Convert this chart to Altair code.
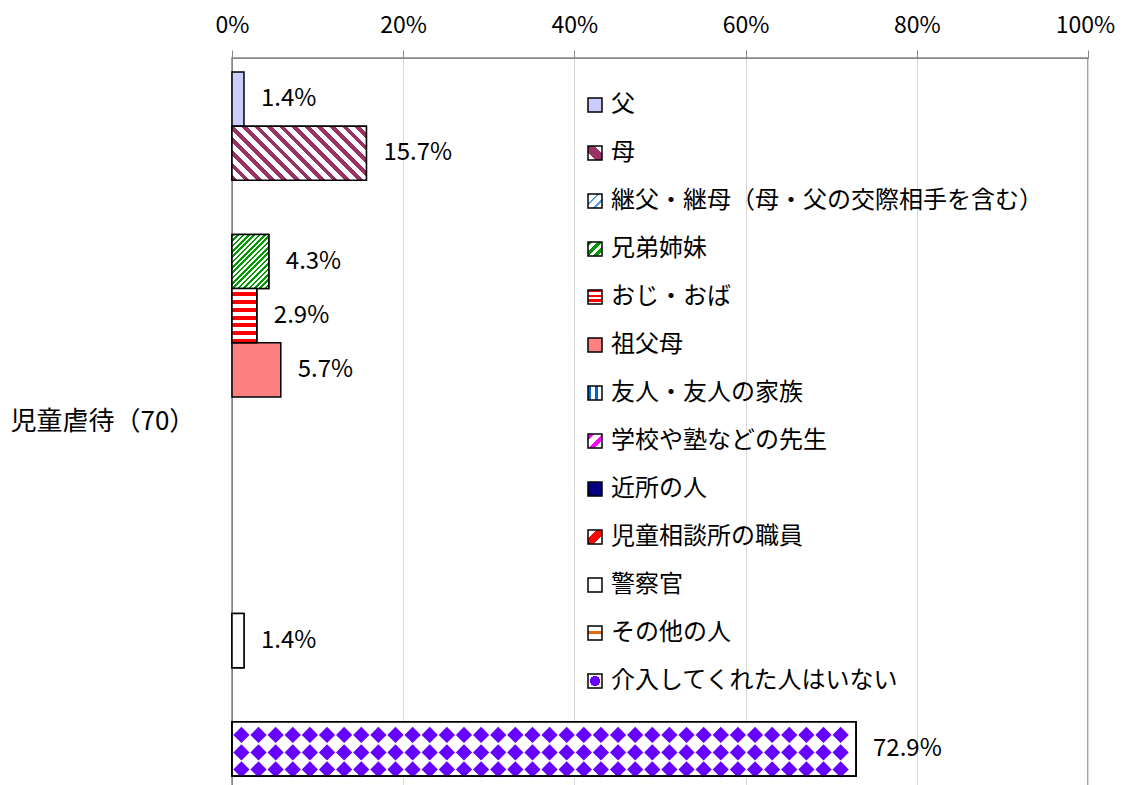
import json
import numpy as np
import pandas as pd
import altair as alt

# ---- data ----
categories = ["児童虐待（70）"]
series = [
    "父", "母", "継父・継母（母・父の交際相手を含む）", "兄弟姉妹", "おじ・おば", "祖父母",
    "友人・友人の家族", "学校や塾などの先生", "近所の人", "児童相談所の職員", "警察官",
    "その他の人", "介入してくれた人はいない",
]
values = [1.4, 15.7, 0.0, 4.3, 2.9, 5.7, 0.0, 0.0, 0.0, 0.0, 1.4, 0.0, 72.9]
x_ticks = [0, 20, 40, 60, 80, 100]

# ---- layout / style ----
W, H = 856, 732
PAD_OUT = 0.2585
FONT = "Noto Sans CJK JP"
px_per = W / 100.0
step = H / (len(series) + 2 * PAD_OUT)


def stripes(color, n, frac, x1, y1, x2, y2, bg="#FFFFFF"):
    stops = []
    for i in range(n):
        a, b, c = i / n, (i + frac) / n, (i + 1) / n
        stops += [{"offset": a, "color": color}, {"offset": b, "color": color},
                  {"offset": b, "color": bg}, {"offset": c, "color": bg}]
    return {"gradient": "linear", "x1": x1, "y1": y1, "x2": x2, "y2": y2, "stops": stops}


def band(color, lo, hi, x1, y1, x2, y2, bg="#FFFFFF"):
    stops = [{"offset": 0, "color": bg}, {"offset": lo, "color": bg},
             {"offset": lo, "color": color}, {"offset": hi, "color": color},
             {"offset": hi, "color": bg}, {"offset": 1, "color": bg}]
    return {"gradient": "linear", "x1": x1, "y1": y1, "x2": x2, "y2": y2, "stops": stops}


def diag(color, w, h, period, frac, back=True):
    c = (w + h) / (w * w + h * h)
    n = max(1, int(round((w + h) / (2 ** 0.5 * period))))
    if back:
        return stripes(color, n, frac, 0, 1, w * c, 1 - h * c)
    return stripes(color, n, frac, 0, 0, w * c, h * c)


def ex(g):
    return {"expr": json.dumps(g)}


radial_purple = {"gradient": "radial", "x1": 0.5, "y1": 0.5, "r1": 0, "x2": 0.5, "y2": 0.5, "r2": 0.5,
                 "stops": [{"offset": 0, "color": "#6600FF"}, {"offset": 0.72, "color": "#6600FF"},
                           {"offset": 0.74, "color": "#FFFFFF"}, {"offset": 1, "color": "#FFFFFF"}]}

legend_fill = [
    "#CCCCFF",
    ex(band("#993366", 0.28, 0.72, 0, 1, 1, 0)),
    ex(stripes("#4F9BE8", 3, 0.25, 0, 0, 1, 1)),
    ex(stripes("#009900", 3, 0.5, 0, 0, 1, 1)),
    ex(stripes("#FF0000", 3, 0.5, 0, 0, 0, 1)),
    "#FF8080",
    ex(stripes("#0066CC", 2, 0.5, 0, 0, 1, 0)),
    ex(stripes("#FF00FF", 2, 0.45, 0, 0, 1, 1)),
    "#000080",
    ex(band("#FF0000", 0.32, 0.68, 0, 0, 1, 1)),
    "#FFFFFF",
    ex(band("#E46C0A", 0.35, 0.55, 0, 0, 0, 1)),
    ex(radial_purple),
]

df = pd.DataFrame({"series": series, "value": values})
vals = dict(zip(series, values))

x_enc = alt.X("value:Q", scale=alt.Scale(domain=[0, 100], nice=False, zero=True),
              axis=alt.Axis(orient="top", values=x_ticks, labelExpr="datum.value + '%'",
                            title=None, grid=True, gridColor="#D9D9D9", gridWidth=1,
                            domainColor="#868686", tickColor="#868686", tickSize=8,
                            labelFontSize=23, labelColor="#000000", labelPadding=13,
                            labelFlush=False,
                            labelOffset={"condition": {"test": "datum.value === 100", "value": -3},
                                         "value": 0}))
y_enc = alt.Y("series:N", sort=None,
              scale=alt.Scale(domain=series, paddingInner=0, paddingOuter=PAD_OUT),
              axis=alt.Axis(labels=False, ticks=False, domainColor="#868686", grid=False,
                            title=categories[0], titleAngle=0, titleAlign="left",
                            titleBaseline="middle", titleX=-222, titleY=H / 2 - 3,
                            titleFontSize=26, titleFontWeight="normal", titleColor="#000000"))

base = alt.Chart(df)

bars = base.transform_filter("datum.value > 0").mark_bar(stroke="black", strokeWidth=1.5).encode(
    x=x_enc, y=y_enc,
    color=alt.Color("series:N", scale=alt.Scale(domain=series, range=legend_fill),
                    legend=alt.Legend(title=None, orient="none", legendX=351, legendY=35,
                                      symbolType="square", symbolSize=196,
                                      symbolStrokeColor="black", symbolStrokeWidth=1.5,
                                      labelFontSize=24, labelColor="#000000", labelLimit=800,
                                      labelOffset=4, rowPadding=24, padding=0)),
)

# patterned overlays for the bars
patterns = {
    "母": diag("#993366", vals["母"] * px_per, step, 9.0, 0.45, back=True),
    "兄弟姉妹": diag("#009900", vals["兄弟姉妹"] * px_per, step, 3.8, 0.5, back=False),
    "おじ・おば": stripes("#FF0000", 7, 0.5, 0, 1, 0, 0),
}
overlays = []
for name, g in patterns.items():
    overlays.append(
        base.transform_filter(alt.datum.series == name)
        .mark_bar(fill=g, stroke="black", strokeWidth=1.5)
        .encode(x=x_enc, y=y_enc)
    )

none_name = series[-1]
none_white = (base.transform_filter(alt.datum.series == none_name)
              .mark_bar(fill="#FFFFFF", stroke="black", strokeWidth=1.5)
              .encode(x=x_enc, y=y_enc))
police_white = (base.transform_filter(alt.datum.series == "警察官")
                .mark_bar(fill="#FFFFFF", stroke="black", strokeWidth=1.5)
                .encode(x=x_enc, y=y_enc))

cols = np.arange(1.1, vals[none_name] - 0.8, 2.0)
df_d = pd.DataFrame({"series": none_name, "value": cols})
diamonds = []
for off in (-14, 3.5, 20.5):
    diamonds.append(
        alt.Chart(df_d).mark_point(shape="diamond", filled=True, size=265, color="#6600FF",
                                   opacity=1, strokeWidth=0, yOffset=off)
        .encode(x=x_enc, y=y_enc)
    )
none_outline = (base.transform_filter(alt.datum.series == none_name)
                .mark_bar(fillOpacity=0, stroke="black", strokeWidth=1.5)
                .encode(x=x_enc, y=y_enc))

labels = (base.transform_filter("datum.value > 0")
          .transform_calculate(label="format(datum.value, '.1f') + '%'")
          .mark_text(align="left", baseline="middle", dx=17, fontSize=24, color="#000000")
          .encode(x=x_enc, y=y_enc, text="label:N"))

chart = alt.layer(bars, *overlays, police_white, none_white, *diamonds, none_outline, labels).properties(
    width=W, height=H,
    autosize=alt.AutoSizeParams(type="none"),
    padding={"left": 224, "top": 50, "right": 28, "bottom": 10},
).configure(font=FONT).configure_view(stroke="#868686", strokeWidth=1.5)

chart.save("out.html", embed_options={"renderer": "svg", "actions": False})
